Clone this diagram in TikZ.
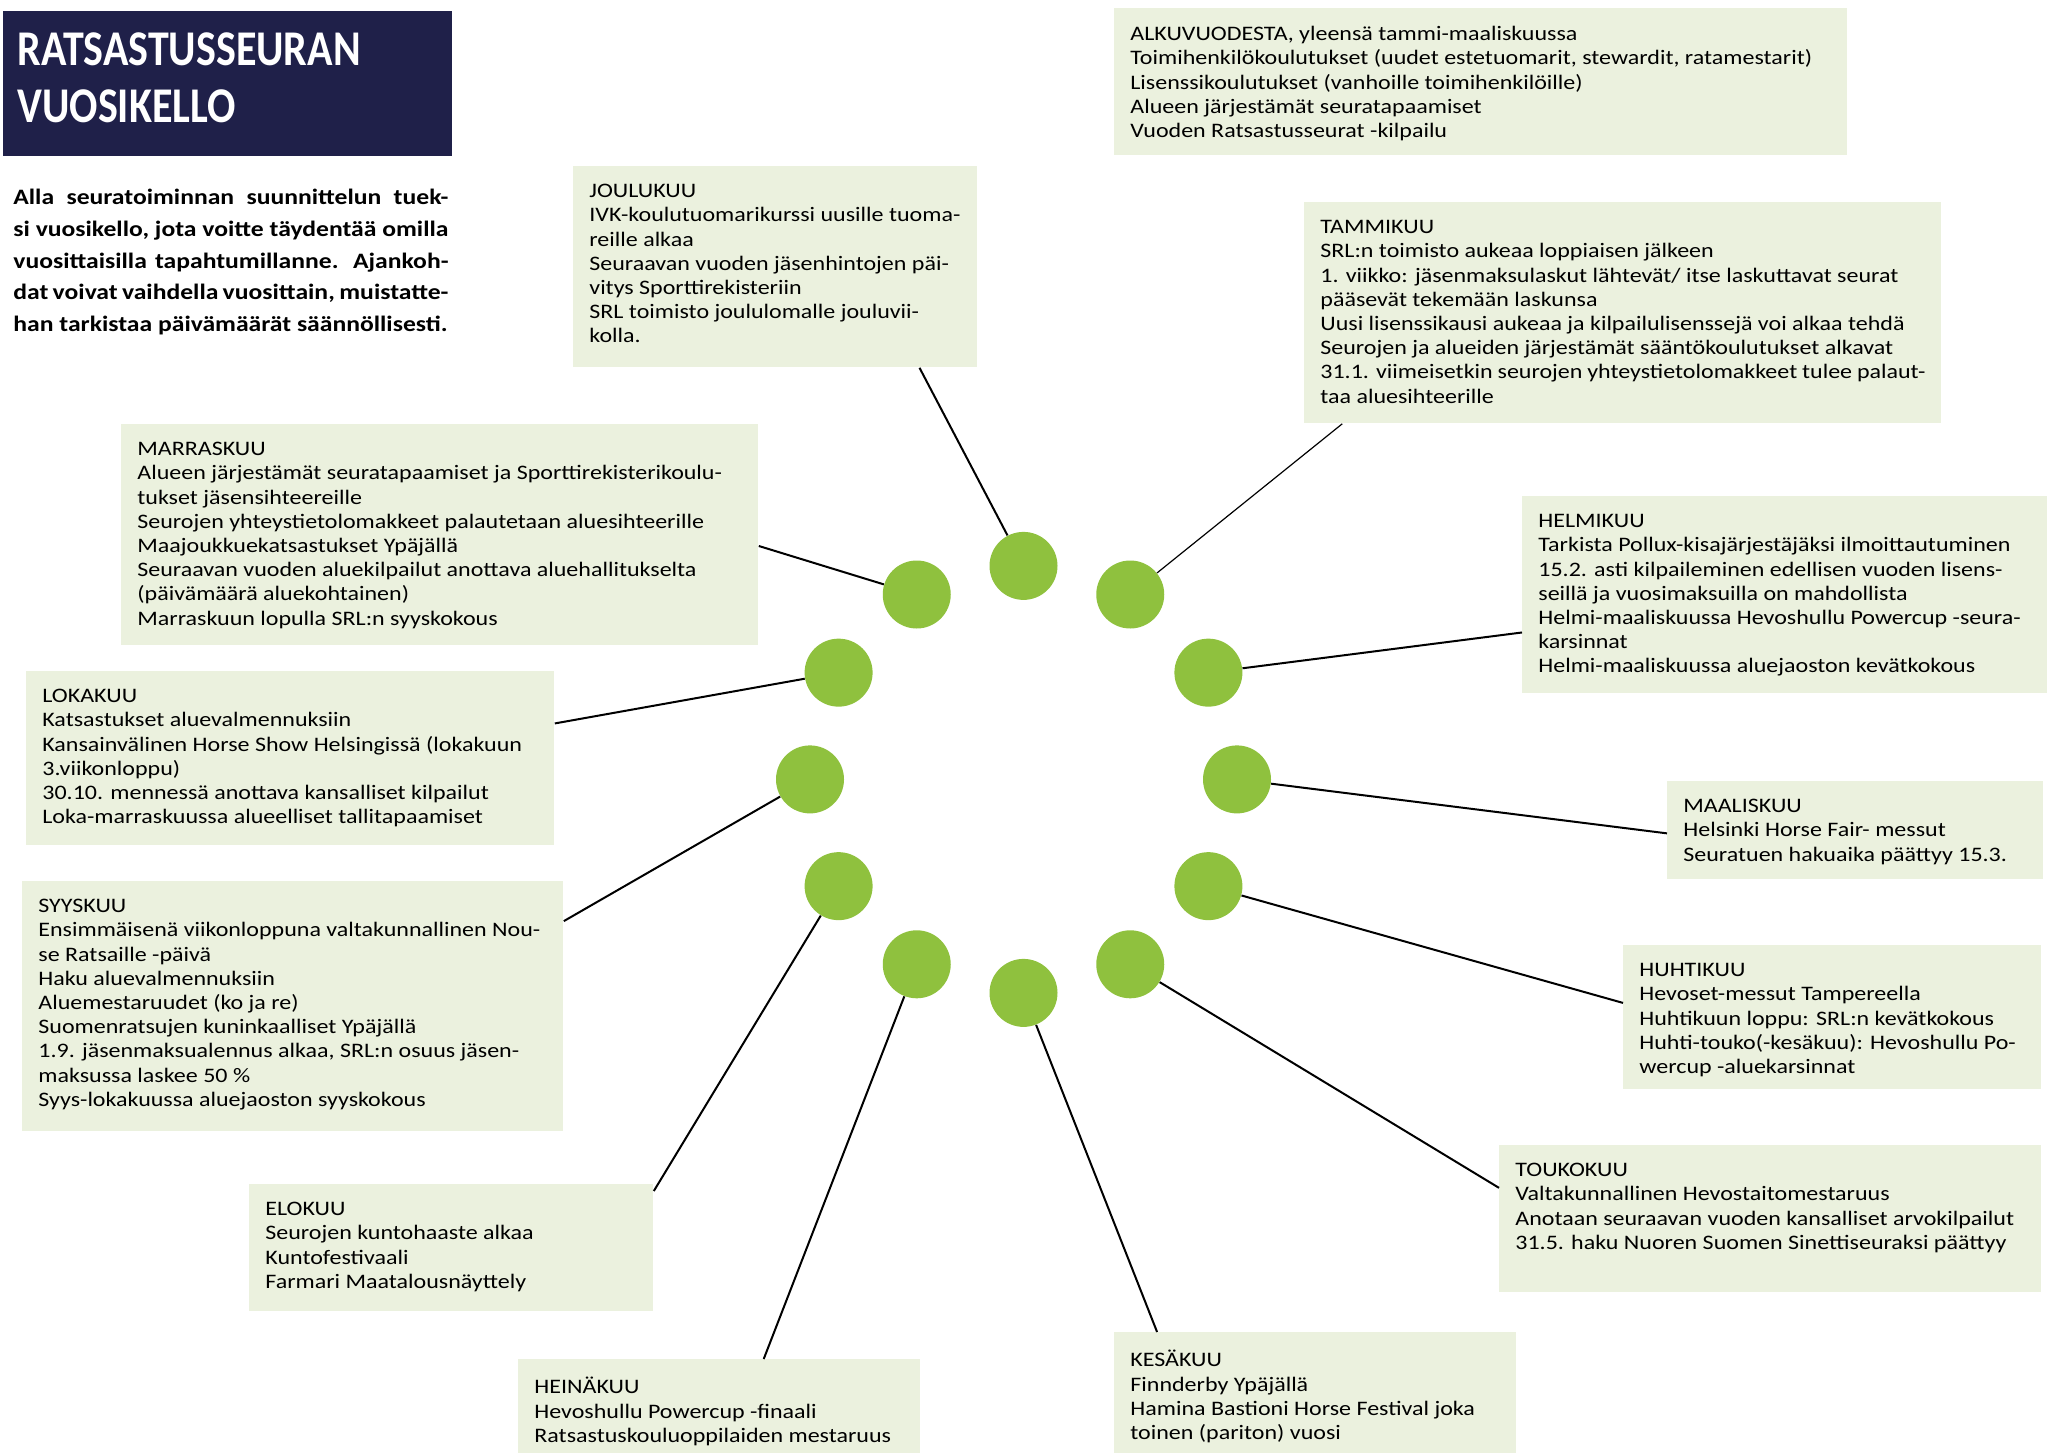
\documentclass[tikz,border=0pt]{standalone}
\usepackage{fontspec}
\setmainfont{Carlito}
\newfontfamily\otsikkofont[FakeStretch=0.84]{Carlito}
\newfontfamily\leveafont[FakeStretch=1.165]{Carlito}
\usepackage{xcolor}
\usepackage{tikz}
\usetikzlibrary{calc}

\definecolor{tummasininen}{HTML}{1F2049}
\definecolor{vaaleavihrea}{HTML}{EBF1DE}
\definecolor{pallovihrea}{HTML}{8FC13E}
% laatikon sisalto: leveys ja korkeus kuvapisteina
\newcommand\laatikko[3]{\parbox[c][\dimexpr#2pt/2-18pt\relax][t]{\dimexpr#1pt/2-16pt\relax}{\raggedright#3}}

\begin{document}
\begin{tikzpicture}[x=0.5pt,y=0.5pt,
  kuu/.style={fill=vaaleavihrea,anchor=north west,inner xsep=8pt,inner ysep=9pt,font=\leveafont\fontsize{10.3}{12.1}\selectfont},
  pallo/.style={circle,fill=pallovihrea,minimum size=34pt,inner sep=0pt},
  viiva/.style={line width=1pt},
  ohut/.style={line width=0.6pt}]
\useasboundingbox (0,0) rectangle (2047,-1455);

% otsikko ja johdanto
\node[fill=tummasininen,anchor=north west,inner xsep=7pt,inner ysep=10.5pt,text=white] (otsikko) at (3,-11)
  {\parbox[c][\dimexpr145pt/2-21pt\relax][t]{\dimexpr449pt/2-14pt\relax}{\otsikkofont\bfseries\fontsize{25}{28.5}\selectfont RATSASTUSSEURAN\\VUOSIKELLO}};
\node[anchor=north west,inner sep=0pt,font=\leveafont\bfseries\fontsize{11}{15.85}\selectfont] (johdanto) at (13,-189)
  {\parbox[t]{217.5pt}{\makebox[217.5pt][s]{Alla seuratoiminnan suunnittelun tuek-}\\
  \makebox[217.5pt][s]{si vuosikello, jota voitte täydentää omilla}\\
  \makebox[217.5pt][s]{vuosittaisilla tapahtumillanne. Ajankoh-}\\
  \makebox[217.5pt][s]{dat voivat vaihdella vuosittain, muistatte-}\\
  han tarkistaa päivämäärät säännöllisesti.}};

% kuukausien laatikot
\node[kuu] (alku) at (1114,-8) {\laatikko{733}{147}{ALKUVUODESTA, yleensä tammi-maaliskuussa\\
  Toimihenkilökoulutukset (uudet estetuomarit, stewardit, ratamestarit)\\
  Lisenssikoulutukset (vanhoille toimihenkilöille)\\
  Alueen järjestämät seuratapaamiset\\
  Vuoden Ratsastusseurat -kilpailu}};
\node[kuu] (joulukuu) at (573,-166) {\laatikko{404}{201}{JOULUKUU\\
  IVK-koulutuomarikurssi uusille tuoma-\\
  reille alkaa\\
  Seuraavan vuoden jäsenhintojen päi-\\
  vitys Sporttirekisteriin\\
  SRL toimisto joululomalle jouluvii-\\
  kolla.}};
\node[kuu] (tammikuu) at (1304,-202) {\laatikko{637}{221}{TAMMIKUU\\
  SRL:n toimisto aukeaa loppiaisen jälkeen\\
  1. viikko: jäsenmaksulaskut lähtevät/ itse laskuttavat seurat\\
  pääsevät tekemään laskunsa\\
  Uusi lisenssikausi aukeaa ja kilpailulisenssejä voi alkaa tehdä\\
  Seurojen ja alueiden järjestämät sääntökoulutukset alkavat\\
  31.1. viimeisetkin seurojen yhteystietolomakkeet tulee palaut-\\
  taa aluesihteerille}};
\node[kuu] (marraskuu) at (121,-424) {\laatikko{637}{221}{MARRASKUU\\
  Alueen järjestämät seuratapaamiset ja Sporttirekisterikoulu-\\
  tukset jäsensihteereille\\
  Seurojen yhteystietolomakkeet palautetaan aluesihteerille\\
  Maajoukkuekatsastukset Ypäjällä\\
  Seuraavan vuoden aluekilpailut anottava aluehallitukselta\\
  (päivämäärä aluekohtainen)\\
  Marraskuun lopulla SRL:n syyskokous}};
\node[kuu] (helmikuu) at (1522,-496) {\laatikko{525}{197}{HELMIKUU\\
  Tarkista Pollux-kisajärjestäjäksi ilmoittautuminen\\
  15.2. asti kilpaileminen edellisen vuoden lisens-\\
  seillä ja vuosimaksuilla on mahdollista\\
  Helmi-maaliskuussa Hevoshullu Powercup -seura-\\
  karsinnat\\
  Helmi-maaliskuussa aluejaoston kevätkokous}};
\node[kuu] (lokakuu) at (26,-671) {\laatikko{528}{174}{LOKAKUU\\
  Katsastukset aluevalmennuksiin\\
  Kansainvälinen Horse Show Helsingissä (lokakuun\\
  3.viikonloppu)\\
  30.10. mennessä anottava kansalliset kilpailut\\
  Loka-marraskuussa alueelliset tallitapaamiset}};
\node[kuu] (maaliskuu) at (1667,-781) {\laatikko{376}{98}{MAALISKUU\\
  Helsinki Horse Fair- messut\\
  Seuratuen hakuaika päättyy 15.3.}};
\node[kuu] (syyskuu) at (22,-881) {\laatikko{541}{250}{SYYSKUU\\
  Ensimmäisenä viikonloppuna valtakunnallinen Nou-\\
  se Ratsaille -päivä\\
  Haku aluevalmennuksiin\\
  Aluemestaruudet (ko ja re)\\
  Suomenratsujen kuninkaalliset Ypäjällä\\
  1.9. jäsenmaksualennus alkaa, SRL:n osuus jäsen-\\
  maksussa laskee 50~\%\\
  Syys-lokakuussa aluejaoston syyskokous}};
\node[kuu] (huhtikuu) at (1623,-945) {\laatikko{418}{144}{HUHTIKUU\\
  Hevoset-messut Tampereella\\
  Huhtikuun loppu: SRL:n kevätkokous\\
  Huhti-touko(-kesäkuu): Hevoshullu Po-\\
  wercup -aluekarsinnat}};
\node[kuu] (toukokuu) at (1499,-1145) {\laatikko{542}{147}{TOUKOKUU\\
  Valtakunnallinen Hevostaitomestaruus\\
  Anotaan seuraavan vuoden kansalliset arvokilpailut\\
  31.5. haku Nuoren Suomen Sinettiseuraksi päättyy}};
\node[kuu] (elokuu) at (249,-1184) {\laatikko{404}{127}{ELOKUU\\
  Seurojen kuntohaaste alkaa\\
  Kuntofestivaali\\
  Farmari Maatalousnäyttely}};
\node[kuu] (kesakuu) at (1114,-1332) {\laatikko{402}{121}{KESÄKUU\\
  Finnderby Ypäjällä\\
  Hamina Bastioni Horse Festival joka\\
  toinen (pariton) vuosi}};
\node[kuu] (heinakuu) at (518,-1359) {\laatikko{402}{94}{HEINÄKUU\\
  Hevoshullu Powercup -finaali\\
  Ratsastuskouluoppilaiden mestaruus}};

% kellon pallot
\coordinate (keskus) at (1023.5,-779.4);
\foreach \kk/\kulma in {pjoulu/90,ptammi/60,phelmi/30,pmaalis/0,phuhti/-30,ptouko/-60,
  pkesa/-90,pheina/-120,pelo/-150,psyys/180,ploka/150,pmarras/120}
  \node[pallo] (\kk) at ($(keskus)+(\kulma:213.5)$) {};

\draw[viiva] ($(joulukuu.south west)!0.856!(joulukuu.south east)$) -- (pjoulu);
\draw[ohut] ($(tammikuu.south west)!0.06!(tammikuu.south east)$) -- (ptammi);
\draw[viiva] ($(helmikuu.north west)!0.69!(helmikuu.south west)$) -- (phelmi);
\draw[viiva] ($(maaliskuu.north west)!0.53!(maaliskuu.south west)$) -- (pmaalis);
\draw[viiva] ($(huhtikuu.north west)!0.40!(huhtikuu.south west)$) -- (phuhti);
\draw[viiva] ($(toukokuu.north west)!0.29!(toukokuu.south west)$) -- (ptouko);
\draw[viiva] ($(kesakuu.north west)!0.107!(kesakuu.north east)$) -- (pkesa);
\draw[viiva] ($(heinakuu.north west)!0.61!(heinakuu.north east)$) -- (pheina);
\draw[viiva] ($(elokuu.north east)!0.055!(elokuu.south east)$) -- (pelo);
\draw[viiva] ($(syyskuu.north east)!0.16!(syyskuu.south east)$) -- (psyys);
\draw[viiva] ($(lokakuu.north east)!0.30!(lokakuu.south east)$) -- (ploka);
\draw[viiva] ($(marraskuu.north east)!0.55!(marraskuu.south east)$) -- (pmarras);
\end{tikzpicture}
\end{document}
